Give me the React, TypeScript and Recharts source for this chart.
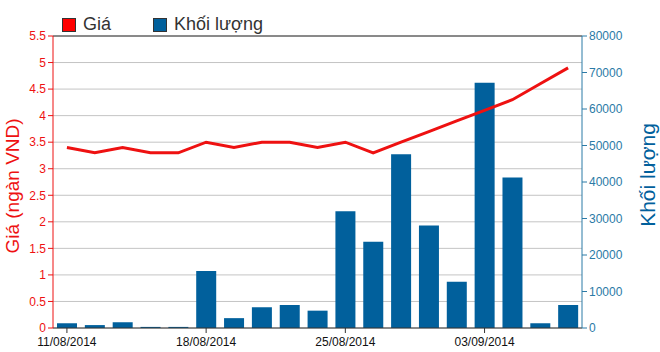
import {
  ComposedChart,
  Bar,
  Line,
  XAxis,
  YAxis,
  CartesianGrid,
  ReferenceLine,
} from "recharts";

// trading days, Aug-Sep 2014
const dates = [
  "11/08/2014", "12/08/2014", "13/08/2014", "14/08/2014", "15/08/2014",
  "18/08/2014", "19/08/2014", "20/08/2014", "21/08/2014", "22/08/2014",
  "25/08/2014", "26/08/2014", "27/08/2014", "28/08/2014", "29/08/2014",
  "03/09/2014", "04/09/2014", "05/09/2014", "08/09/2014",
];

const prices = [
  3.4, 3.3, 3.4, 3.3, 3.3, 3.5, 3.4, 3.5, 3.5, 3.4,
  3.5, 3.3, 3.5, 3.7, 3.9, 4.1, 4.3, 4.6, 4.9,
];

const volumes = [
  1300, 800, 1550, 300, 300, 15600, 2700, 5700, 6300, 4750,
  32000, 23600, 47600, 28100, 12650, 67200, 41200, 1300, 6300,
];

const priceTicks = [0, 0.5, 1, 1.5, 2, 2.5, 3, 3.5, 4, 4.5, 5, 5.5];
const volumeTicks = [0, 10000, 20000, 30000, 40000, 50000, 60000, 70000, 80000];

const RED = "#ee1111";
const BLUE = "#01609c";
const AXIS_BLUE = "#2b7aa6";
const FONT = "'Liberation Sans', Arial, sans-serif";

const data = dates.map((date, i) => ({
  date,
  price: prices[i],
  volume: volumes[i],
}));

// rotated axis title, placed from the axis viewBox
function axisTitle(text: string, color: string, size: number, side: "left" | "right", dy: number) {
  return (props: any) => {
    const vb = props.viewBox || {};
    const x = side === "left" ? vb.x + 12 : vb.x + vb.width - 13;
    const y = vb.y + vb.height / 2 + dy;
    return (
      <text
        x={x}
        y={y}
        transform={`rotate(-90 ${x} ${y})`}
        textAnchor="middle"
        dominantBaseline="central"
        fill={color}
        fontSize={size}
        fontFamily={FONT}
      >
        {text}
      </text>
    );
  };
}

export default function App() {
  return (
    <div style={{ position: "relative", width: 660, height: 352, fontFamily: FONT }}>
      <style>{`body{margin:0;background:#fff}`}</style>

      {/* legend */}
      <div
        style={{
          position: "absolute",
          top: 14,
          left: 62,
          display: "flex",
          alignItems: "center",
          fontSize: 18,
          color: "#333",
          zIndex: 2,
        }}
      >
        <span style={{ width: 12, height: 12, background: "#ff0000", border: "1px solid #333", marginRight: 7 }} />
        <span style={{ marginRight: 42 }}>Giá</span>
        <span style={{ width: 12, height: 12, background: BLUE, border: "1px solid #333", marginRight: 7 }} />
        <span>Khối lượng</span>
      </div>

      <ComposedChart
        width={660}
        height={352}
        data={data}
        margin={{ top: 36, right: 0, bottom: 0, left: 0 }}
        style={{ fontFamily: FONT }}
      >
        <CartesianGrid yAxisId="left" vertical={false} stroke="#c4c4c4" />
        <XAxis
          dataKey="date"
          interval={4}
          height={24}
          tick={{ fill: "#111", fontSize: 12, dy: 2 }}
          tickLine={{ stroke: "#333" }}
          tickSize={5}
          axisLine={{ stroke: "#333" }}
        />
        <YAxis
          yAxisId="left"
          domain={[0, 5.5]}
          ticks={priceTicks}
          width={53}
          tick={{ fill: RED, fontSize: 12 }}
          tickLine={{ stroke: RED }}
          tickSize={5}
          axisLine={{ stroke: RED }}
          label={{ content: axisTitle("Giá (ngàn VND)", RED, 19, "left", 4) }}
        />
        <YAxis
          yAxisId="right"
          orientation="right"
          domain={[0, 80000]}
          ticks={volumeTicks}
          width={78}
          tick={{ fill: AXIS_BLUE, fontSize: 12 }}
          tickLine={{ stroke: AXIS_BLUE }}
          tickSize={5}
          axisLine={{ stroke: AXIS_BLUE }}
          label={{ content: axisTitle("Khối lượng", BLUE, 21, "right", -7) }}
        />
        <ReferenceLine yAxisId="left" y={5.5} stroke="#333" />
        <Bar
          yAxisId="right"
          dataKey="volume"
          fill={BLUE}
          barSize={20}
          isAnimationActive={false}
        />
        <Line
          yAxisId="left"
          dataKey="price"
          stroke={RED}
          strokeWidth={3}
          dot={false}
          isAnimationActive={false}
        />
      </ComposedChart>
    </div>
  );
}
